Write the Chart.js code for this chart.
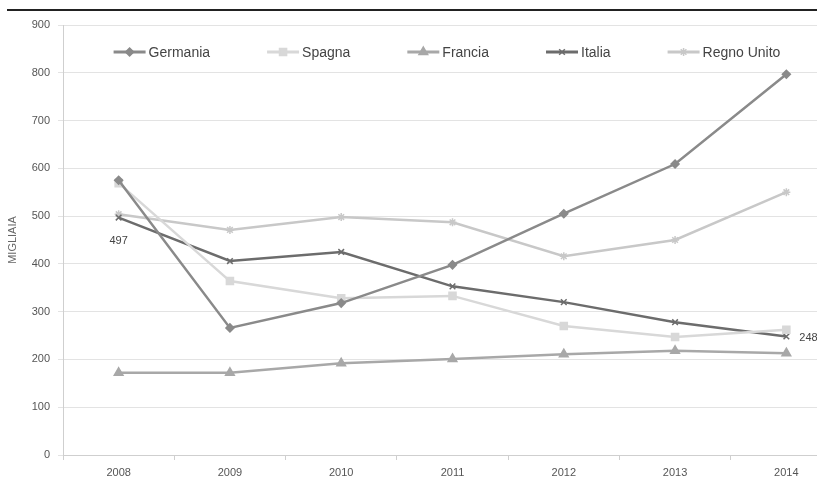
<!DOCTYPE html>
<html>
<head>
<meta charset="utf-8">
<script src="https://cdn.jsdelivr.net/npm/chart.js@4.4.1/dist/chart.umd.min.js"></script>
<style>
  html, body { margin: 0; padding: 0; background: #fff; }
  #wrap { position: relative; width: 817px; height: 486px; overflow: hidden; background: #fff; }
  #rule { position: absolute; left: 7px; right: 0; top: 9px; height: 2px; background: #222; }
  #chart { position: absolute; left: 0; top: 0; }
</style>
</head>
<body>
<div id="wrap">
  <canvas id="chart" width="850" height="486"></canvas>
  <div id="rule"></div>
</div>
<script>
const years = ['2008', '2009', '2010', '2011', '2012', '2013', '2014']
const germania = [575, 266, 318, 398, 505, 609, 797]
const spagna = [569, 364, 328, 333, 270, 247, 262]
const francia = [172, 172, 192, 201, 211, 218, 213]
const italia = [497, 406, 425, 353, 320, 278, 248]
const regnoUnito = [504, 471, 498, 487, 416, 450, 550]
const seriesNames = ['Germania', 'Spagna', 'Francia', 'Italia', 'Regno Unito']

const FONT = "'Liberation Sans', Arial, sans-serif"

const makeSet = (label, data, color, style, radius) => ({
  label: label,
  data: data,
  borderColor: color,
  backgroundColor: color,
  borderWidth: 2.5,
  pointStyle: style,
  pointRadius: radius,
  pointBorderWidth: 1.5,
  pointBackgroundColor: color,
  pointBorderColor: color,
  tension: 0
})

// legend drawn inside the plot, Excel style (line + marker, then text)
const insideLegend = {
  id: 'insideLegend',
  afterDatasetsDraw(chart) {
    const ctx = chart.ctx
    const lineW = 32, textGap = 3, itemGap = 57
    const y = 52
    ctx.save()
    ctx.font = '14px ' + FONT
    const sets = chart.data.datasets
    const widths = sets.map(ds => ctx.measureText(ds.label).width)
    const total = widths.reduce((a, w) => a + lineW + textGap + w, 0) + itemGap * (sets.length - 1)
    let x = 447 - total / 2
    sets.forEach((ds, i) => {
      ctx.strokeStyle = ds.borderColor
      ctx.fillStyle = ds.borderColor
      ctx.lineWidth = 3
      ctx.beginPath()
      ctx.moveTo(x, y)
      ctx.lineTo(x + lineW, y)
      ctx.stroke()
      ctx.lineWidth = 1.5
      Chart.helpers.drawPoint(ctx, {pointStyle: ds.pointStyle, radius: ds.pointRadius, borderWidth: 1.5, rotation: 0}, x + lineW / 2, y)
      ctx.fillStyle = '#444'
      ctx.textBaseline = 'middle'
      ctx.textAlign = 'left'
      ctx.fillText(ds.label, x + lineW + textGap, y + 1)
      x += lineW + textGap + widths[i] + itemGap
    })
    ctx.restore()
  }
}

const valueLabels = {
  id: 'valueLabels',
  afterDatasetsDraw(chart) {
    const ctx = chart.ctx
    const meta = chart.getDatasetMeta(3)
    const first = meta.data[0]
    const last = meta.data[meta.data.length - 1]
    ctx.save()
    ctx.font = '11px ' + FONT
    ctx.fillStyle = '#444'
    ctx.textBaseline = 'middle'
    ctx.textAlign = 'center'
    ctx.fillText(String(italia[0]), first.x, first.y + 23)
    ctx.textAlign = 'left'
    ctx.fillText(String(italia[italia.length - 1]), last.x + 13, last.y + 1)
    ctx.restore()
  }
}

const ctx = document.getElementById('chart')

new Chart(ctx, {
  type: 'line',
  data: {
    labels: years,
    datasets: [
      makeSet(seriesNames[0], germania, '#8a8a8a', 'rectRot', 4),
      makeSet(seriesNames[1], spagna, '#d8d8d8', 'rect', 5),
      makeSet(seriesNames[2], francia, '#a8a8a8', 'triangle', 5),
      makeSet(seriesNames[3], italia, '#6c6c6c', 'crossRot', 4),
      makeSet(seriesNames[4], regnoUnito, '#c8c8c8', 'star', 4)
    ]
  },
  plugins: [valueLabels, insideLegend],
  options: {
    responsive: false,
    animation: false,
    devicePixelRatio: 1,
    layout: {
      padding: {top: 25, right: 8, left: 0, bottom: 0}
    },
    scales: {
      x: {
        offset: true,
        afterFit: (scale) => { scale.height = 31 },
        grid: {
          offset: true,
          drawOnChartArea: false,
          drawTicks: true,
          tickLength: 5,
          color: '#cfcfcf'
        },
        border: {color: '#cfcfcf'},
        ticks: {
          padding: 6,
          color: '#555',
          font: {family: FONT, size: 11}
        }
      },
      y: {
        min: 0,
        max: 900,
        afterFit: (scale) => { scale.width = 63 },
        grid: {
          color: '#e3e3e3',
          drawTicks: true,
          tickLength: 5
        },
        border: {color: '#cfcfcf'},
        ticks: {
          stepSize: 100,
          padding: 8,
          color: '#555',
          font: {family: FONT, size: 11}
        },
        title: {
          display: true,
          text: 'MIGLIAIA',
          color: '#666',
          padding: {top: 6, bottom: 0},
          font: {family: FONT, size: 11}
        }
      }
    },
    plugins: {
      tooltip: {enabled: false},
      legend: {display: false}
    }
  }
});
</script>
</body>
</html>
